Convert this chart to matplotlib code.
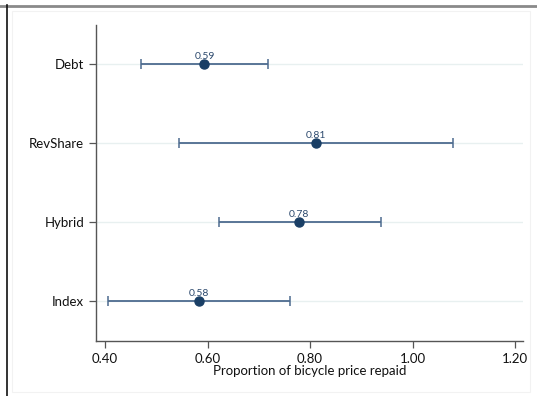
import numpy as np
import matplotlib.pyplot as plt
from matplotlib.lines import Line2D
from matplotlib.patches import Rectangle

plt.rcParams['font.family'] = ['Lato', 'DejaVu Sans']

# data
groups = ['Debt', 'RevShare', 'Hybrid', 'Index']
means = [0.594, 0.811, 0.779, 0.583]
ci_low = [0.470, 0.544, 0.622, 0.405]
ci_high = [0.717, 1.078, 0.938, 0.761]
mean_labels = ['0.59', '0.81', '0.78', '0.58']
xticks = [0.40, 0.60, 0.80, 1.00, 1.20]

navy = '#1a3f66'
bar_col = '#4d6b8f'

fig = plt.figure(figsize=(5.37, 3.96), dpi=100)
ax = fig.add_axes([0.1788, 0.1389, 0.974 - 0.1788, 0.9369 - 0.1389])

ypos = np.arange(len(groups), 0, -1)
for y in ypos:
    ax.axhline(y, color='#e8f0f0', lw=1.0, zorder=0)

means = np.array(means)
err = [means - np.array(ci_low), np.array(ci_high) - means]
ax.errorbar(means, ypos, xerr=err, fmt='none', ecolor=bar_col,
            elinewidth=1.3, capsize=3.5, capthick=1.1, zorder=2)
ax.plot(means, ypos, 'o', color=navy, ms=6.5, zorder=3)
for m, y, lab in zip(means, ypos, mean_labels):
    ax.text(m, y + 0.05, lab, ha='center', va='bottom', fontsize=7.5, color='#2d4a6e')

ax.set_xlim(0.3824, 1.2156)
ax.set_ylim(0.5, 4.5)
ax.set_xticks(xticks)
ax.set_xticklabels(['%.2f' % t for t in xticks])
ax.set_yticks(ypos)
ax.set_yticklabels(groups)
ax.set_xlabel('Proportion of bicycle price repaid', fontsize=9.5, labelpad=0, color='#111111')
ax.tick_params(axis='both', labelsize=9.5, colors='#555555', labelcolor='#111111', length=5, width=0.9)

for s in ['top', 'right']:
    ax.spines[s].set_visible(False)
for s in ['left', 'bottom']:
    ax.spines[s].set_color('#555555')
    ax.spines[s].set_linewidth(1.0)

# outer frame
fig.patches.append(Rectangle((12 / 537, 4 / 396), 518 / 537, 381 / 396, transform=fig.transFigure,
                             fill=False, ec='#f2f2f2', lw=0.8))
fig.lines.append(Line2D([0, 1], [390.5 / 396, 390.5 / 396], transform=fig.transFigure,
                        color='#8a8a8a', lw=2))
fig.lines.append(Line2D([7.5 / 537, 7.5 / 537], [0, 391 / 396], transform=fig.transFigure,
                        color='#111111', lw=1.2))

fig.savefig('out.png', dpi=100)
